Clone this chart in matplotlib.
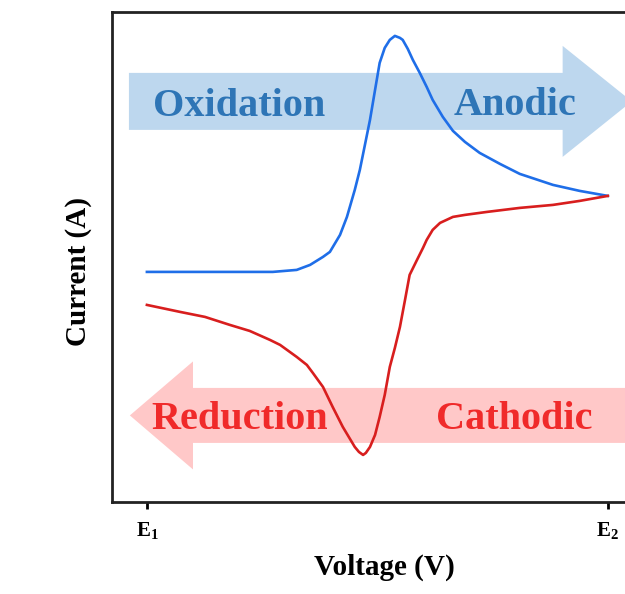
import matplotlib
matplotlib.use("Agg")
import matplotlib.pyplot as plt
import matplotlib.patches as mpatches

plt.rcParams['font.family'] = ['Liberation Serif', 'DejaVu Serif']
plt.rcParams['font.weight'] = 'bold'
plt.rcParams['axes.labelweight'] = 'bold'
plt.rcParams['mathtext.fontset'] = 'custom'
plt.rcParams['mathtext.rm'] = 'Liberation Serif:bold'
plt.rcParams['mathtext.default'] = 'rm'

# forward scan (E1 -> E2), oxidation branch
fwd_v = [0.000, 0.115, 0.223, 0.273, 0.325, 0.354, 0.382, 0.397, 0.419, 0.434,
         0.451, 0.462, 0.473, 0.484, 0.495, 0.505, 0.516, 0.527, 0.538, 0.549,
         0.555, 0.566, 0.577, 0.592, 0.607, 0.620, 0.642, 0.664, 0.690, 0.722,
         0.766, 0.809, 0.881, 0.939, 1.000]
fwd_i = [2.30, 2.30, 2.30, 2.30, 2.32, 2.37, 2.45, 2.50, 2.67, 2.85,
         3.12, 3.32, 3.57, 3.82, 4.12, 4.39, 4.54, 4.62, 4.66, 4.64,
         4.62, 4.53, 4.42, 4.29, 4.15, 4.02, 3.85, 3.71, 3.60, 3.49,
         3.38, 3.28, 3.17, 3.11, 3.06]

# reverse scan (E2 -> E1), reduction branch
rev_v = [1.000, 0.939, 0.881, 0.809, 0.738, 0.690, 0.664, 0.636, 0.620, 0.607,
         0.599, 0.586, 0.570, 0.560, 0.549, 0.538, 0.527, 0.516, 0.505, 0.495,
         0.484, 0.475, 0.469, 0.460, 0.451, 0.438, 0.425, 0.403, 0.382, 0.360,
         0.347, 0.325, 0.289, 0.267, 0.223, 0.180, 0.126, 0.072, 0.000]
rev_i = [3.06, 3.01, 2.97, 2.94, 2.90, 2.87, 2.85, 2.79, 2.72, 2.62,
         2.54, 2.42, 2.27, 2.02, 1.75, 1.54, 1.35, 1.07, 0.85, 0.67,
         0.55, 0.49, 0.47, 0.50, 0.55, 0.65, 0.75, 0.95, 1.15, 1.29,
         1.37, 1.45, 1.57, 1.62, 1.71, 1.77, 1.85, 1.90, 1.97]

tick_pos = [0.0, 1.0]
tick_labels = ['E$_1$', 'E$_2$']

fig = plt.figure(figsize=(6.25, 5.94), dpi=100)
ax = fig.add_axes([0.179, 0.155, 0.941, 0.825])
ax.set_xlim(-0.076, 1.2)
ax.set_ylim(0, 4.9)

# direction arrows
blue_arrow = mpatches.FancyArrow(-0.039, 4.005, 1.091, 0, width=0.57,
                                 head_width=1.11, head_length=0.150,
                                 length_includes_head=True,
                                 facecolor='#bdd7ee', edgecolor='none', zorder=1)
red_arrow = mpatches.FancyArrow(1.25, 0.865, -1.287, 0, width=0.55,
                                head_width=1.08, head_length=0.137,
                                length_includes_head=True,
                                facecolor='#ffc8c8', edgecolor='none', zorder=1)
ax.add_patch(blue_arrow)
ax.add_patch(red_arrow)

ax.text(0.201, 3.86, 'Oxidation', color='#2e75b6', fontsize=29,
        ha='center', va='baseline', zorder=2)
ax.text(0.798, 3.87, 'Anodic', color='#2e75b6', fontsize=29,
        ha='center', va='baseline', zorder=2)
ax.text(0.201, 0.73, 'Reduction', color='#f02a2a', fontsize=29,
        ha='center', va='baseline', zorder=2)
ax.text(0.798, 0.73, 'Cathodic', color='#f02a2a', fontsize=29,
        ha='center', va='baseline', zorder=2)

ax.plot(fwd_v, fwd_i, color='#1f6ee8', linewidth=1.9, zorder=3,
        solid_joinstyle='round')
ax.plot(rev_v, rev_i, color='#d81e1e', linewidth=1.9, zorder=3,
        solid_joinstyle='round')

for side in ['left', 'bottom', 'top', 'right']:
    ax.spines[side].set_linewidth(2)
    ax.spines[side].set_color('#222222')

ax.set_yticks([])
ax.set_xticks(tick_pos)
ax.set_xticklabels(tick_labels, fontsize=15)
ax.tick_params(axis='x', direction='out', length=5, width=2, pad=8)

ax.set_xlabel('Voltage (V)', fontsize=21)
ax.xaxis.set_label_coords(0.463, -0.105)
ax.set_ylabel('Current (A)', fontsize=21)
ax.yaxis.set_label_coords(-0.034, 0.47)

fig.savefig('out.png', dpi=100)
